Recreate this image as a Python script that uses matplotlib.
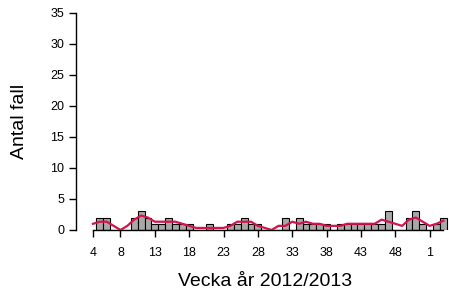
import pandas as pd
import matplotlib.pyplot as plt

plt.rcParams['font.family'] = ['Liberation Sans', 'DejaVu Sans']

# Weekly case counts, week 4 of 2012 to week 3 of 2013
weeks = list(range(4, 53)) + [1, 2, 3]
counts = [0, 2, 2, 0, 0, 0, 2, 3, 2, 1,   # weeks 4-13
          1, 2, 1, 1, 1, 0, 0, 1, 0, 0,   # weeks 14-23
          1, 1, 2, 1, 1, 0, 0, 0, 2, 0,   # weeks 24-33
          2, 1, 1, 1, 1, 0, 1, 1, 1, 1,   # weeks 34-43
          1, 1, 1, 3, 0, 0, 2, 3, 1,      # weeks 44-52
          0, 1, 2]                        # weeks 1-3 (2013)
tick_weeks = [4, 8, 13, 18, 23, 28, 33, 38, 43, 48, 1]
y_ticks = [0, 5, 10, 15, 20, 25, 30, 35]

df = pd.DataFrame({'week': weeks, 'count': counts})
# 3-week centred moving average for the trend line
df['trend'] = df['count'].rolling(3, center=True, min_periods=1).mean()
pos = list(range(len(df)))

fig = plt.figure(figsize=(4.49, 2.98), dpi=100)
ax = fig.add_axes([76 / 449, 68 / 298, 373 / 449, 217.5 / 298])

ax.bar(pos, df['count'], width=1.0, color='#A8A8A8', edgecolor='black', linewidth=0.8, zorder=2)
ax.plot(pos, df['trend'], color='#D3124E', linewidth=1.6, solid_joinstyle='round', zorder=3)

ax.set_xlim(-17 / 6.87, 356 / 6.87)
ax.set_ylim(0, 35)

for s in ['top', 'right']:
    ax.spines[s].set_visible(False)
ax.spines['left'].set_bounds(0, 35)
ax.spines['bottom'].set_bounds(0, len(df) - 1)
ax.spines['left'].set_linewidth(1.0)
ax.spines['bottom'].set_linewidth(1.0)

ax.set_yticks(y_ticks)
ax.set_xticks([weeks.index(w) for w in tick_weeks])
ax.set_xticklabels([str(w) for w in tick_weeks])
ax.tick_params(axis='both', length=5, width=1.0, labelsize=9, colors='black')
ax.tick_params(axis='y', pad=3.5)
ax.tick_params(axis='x', pad=7)

fig.text(265 / 449, 1 - 281 / 298, 'Vecka år 2012/2013', ha='center', va='center', fontsize=14)
fig.text(19 / 449, 1 - 121 / 298, 'Antal fall', ha='center', va='center', rotation=90, fontsize=14)

fig.savefig('out.png', dpi=100)
